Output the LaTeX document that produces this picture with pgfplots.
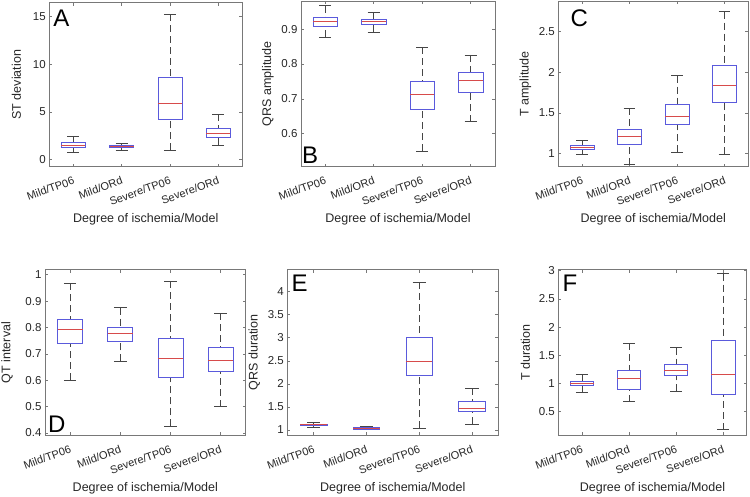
\documentclass[border=0pt]{standalone}
\usepackage{fontspec}
\setmainfont{Liberation Sans}
\usepackage{pgfplots}
\pgfplotsset{compat=1.18}
\usepgfplotslibrary{statistics}

\definecolor{boxblue}{RGB}{90,90,220}
\definecolor{medred}{RGB}{215,75,75}
\definecolor{whisk}{RGB}{70,70,70}
\definecolor{framegray}{RGB}{120,120,120}

% one box: position, lower whisker, q1, median, q3, upper whisker
\newcommand{\bx}[6]{\addplot[boxblue, boxplot prepared={draw position=#1,
  lower whisker=#2, lower quartile=#3, median=#4, upper quartile=#5, upper whisker=#6}]
  coordinates {};}

\tikzset{letter/.style={font=\fontsize{24}{26}\selectfont, inner sep=0pt, text=black}}

\pgfplotsset{
  panel/.style={
    scale only axis, anchor=south west,
    xmin=0.5, xmax=4.5,
    xtick={1,2,3,4},
    xticklabels={Mild/TP06, Mild/ORd, Severe/TP06, Severe/ORd},
    xticklabel style={yshift=-7.5pt, rotate=20, anchor=north east, inner sep=1.5pt,
      font=\fontsize{11}{13}\selectfont},
    yticklabel style={font=\fontsize{11.5}{13}\selectfont},
    ticklabel style={text=black!85},
    tick align=inside, tick pos=both, major tick length=3pt,
    axis line style={framegray, line width=0.6pt},
    every tick/.style={framegray, line width=0.6pt},
    /pgf/number format/assume math mode=true,
    xlabel={Degree of ischemia/Model},
    xlabel style={at={(axis description cs:0.5,0)}, anchor=center, yshift=-53pt,
      font=\fontsize{12.5}{14}\selectfont, text=black!85},
    ylabel style={at={([xshift=-33pt]axis description cs:0,0.5)}, anchor=center,
      font=\fontsize{12.5}{14}\selectfont, text=black!85},
    boxplot/draw direction=y,
    boxplot/box extend=0.5, boxplot/whisker extend=0.25,
    boxplot/every box/.style={draw=boxblue, line width=0.7pt},
    boxplot/every median/.style={draw=medred, line width=0.7pt},
    boxplot/draw/lower whisker/.code={
      \draw[whisk, line width=0.7pt, dash pattern=on 7pt off 4pt]
        (boxplot box cs:\pgfplotsboxplotvalue{lower whisker},0.5) --
        (boxplot box cs:\pgfplotsboxplotvalue{lower quartile},0.5);
      \draw[whisk, line width=0.7pt]
        (boxplot whisker cs:\pgfplotsboxplotvalue{lower whisker},0) --
        (boxplot whisker cs:\pgfplotsboxplotvalue{lower whisker},1);
    },
    boxplot/draw/upper whisker/.code={
      \draw[whisk, line width=0.7pt, dash pattern=on 7pt off 4pt]
        (boxplot box cs:\pgfplotsboxplotvalue{upper whisker},0.5) --
        (boxplot box cs:\pgfplotsboxplotvalue{upper quartile},0.5);
      \draw[whisk, line width=0.7pt]
        (boxplot whisker cs:\pgfplotsboxplotvalue{upper whisker},0) --
        (boxplot whisker cs:\pgfplotsboxplotvalue{upper whisker},1);
    },
  },
}

\begin{document}
\begin{tikzpicture}
\useasboundingbox (0,0) rectangle (750pt,496pt);

% A
\begin{axis}[panel, at={(49.3pt,329.3pt)}, width=193pt, height=164pt,
  ymin=-0.77, ymax=16.47, ytick={0,5,10,15}, ylabel={ST deviation}]
\bx{1}{0.70}{1.23}{1.47}{1.75}{2.45}
\bx{2}{0.91}{1.23}{1.33}{1.44}{1.65}
\bx{3}{0.95}{4.24}{5.85}{8.66}{15.25}
\bx{4}{1.47}{2.35}{2.73}{3.29}{4.73}
\node[letter, anchor=north west, xshift=4pt, yshift=-6.6pt] at (rel axis cs:0,1) {A};
\end{axis}

% B
\begin{axis}[panel, at={(301pt,329.3pt)}, width=194pt, height=165.7pt,
  ymin=0.505, ymax=0.981, ytick={0.6,0.7,0.8,0.9}, ylabel={QRS amplitude}]
\bx{1}{0.878}{0.9095}{0.922}{0.935}{0.968}
\bx{2}{0.891}{0.914}{0.922}{0.929}{0.948}
\bx{3}{0.550}{0.670}{0.714}{0.750}{0.848}
\bx{4}{0.634}{0.718}{0.754}{0.777}{0.826}
\node[letter, anchor=south west, xshift=1pt, yshift=3.4pt] at (rel axis cs:0,0) {B};
\end{axis}

% C
\begin{axis}[panel, at={(558.3pt,329.3pt)}, width=190pt, height=165.7pt,
  ymin=0.84, ymax=2.877, ytick={1,1.5,2,2.5}, ylabel={T amplitude}]
\bx{1}{0.99}{1.053}{1.08}{1.10}{1.16}
\bx{2}{0.865}{1.12}{1.21}{1.30}{1.557}
\bx{3}{1.016}{1.36}{1.459}{1.607}{1.96}
\bx{4}{0.996}{1.631}{1.84}{2.082}{2.746}
\node[letter, anchor=north west, xshift=12pt, yshift=-8.3pt] at (rel axis cs:0,1) {C};
\end{axis}

% D
\begin{axis}[panel, at={(45pt,60.7pt)}, width=200.7pt, height=165.6pt,
  ymin=0.391, ymax=1.019, ytick={0.4,0.5,0.6,0.7,0.8,0.9,1}, ylabel={QT interval},
  ylabel style={at={([xshift=-38pt]axis description cs:0,0.5)}}]
\bx{1}{0.601}{0.738}{0.792}{0.830}{0.968}
\bx{2}{0.671}{0.748}{0.776}{0.800}{0.875}
\bx{3}{0.425}{0.612}{0.684}{0.758}{0.975}
\bx{4}{0.500}{0.633}{0.675}{0.723}{0.853}
\node[letter, anchor=south west, xshift=3pt, yshift=3pt] at (rel axis cs:0,0) {D};
\end{axis}

% E
\begin{axis}[panel, at={(287.3pt,60.7pt)}, width=211pt, height=165.6pt,
  ymin=0.884, ymax=4.477, ytick={1,1.5,2,2.5,3,3.5,4}, ylabel={QRS duration}]
\bx{1}{1.065}{1.094}{1.115}{1.13}{1.166}
\bx{2}{1.007}{1.022}{1.043}{1.058}{1.072}
\bx{3}{1.036}{2.184}{2.48}{3.0}{4.206}
\bx{4}{1.13}{1.404}{1.477}{1.614}{1.91}
\node[letter, anchor=north west, xshift=4pt, yshift=-5pt] at (rel axis cs:0,1) {E};
\end{axis}

% F
\begin{axis}[panel, at={(558.3pt,60.7pt)}, width=188.4pt, height=165.6pt,
  ymin=0.077, ymax=3.018, ytick={0.5,1,1.5,2,2.5,3}, ylabel={T duration}]
\bx{1}{0.846}{0.965}{1.006}{1.036}{1.154}
\bx{2}{0.675}{0.893}{1.095}{1.225}{1.71}
\bx{3}{0.858}{1.148}{1.231}{1.337}{1.633}
\bx{4}{0.178}{0.799}{1.154}{1.763}{2.95}
\node[letter, anchor=north west, xshift=4pt, yshift=-5pt] at (rel axis cs:0,1) {F};
\end{axis}
\end{tikzpicture}
\end{document}
